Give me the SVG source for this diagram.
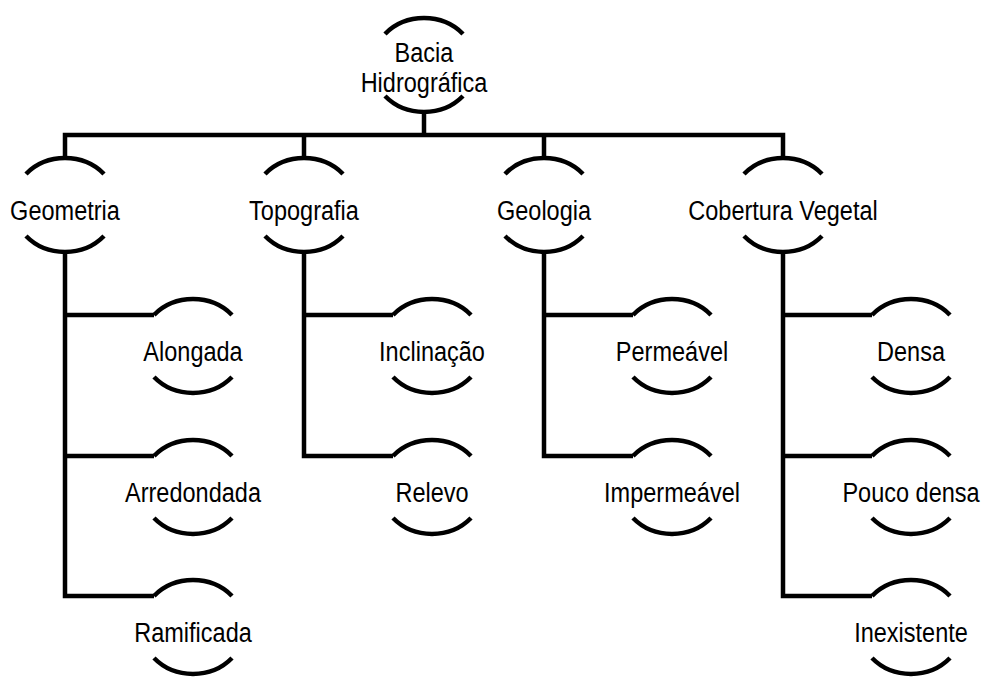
<svg xmlns="http://www.w3.org/2000/svg" xmlns:xlink="http://www.w3.org/1999/xlink" width="981" height="677" viewBox="0 0 981 677">
<style>
.arc{fill:none;stroke:#000;stroke-width:4.5;stroke-linecap:butt}
.con{fill:none;stroke:#000;stroke-width:4.5;stroke-linejoin:miter;stroke-linecap:butt}
text{font-family:"Liberation Sans",Arial,sans-serif;font-size:28px;fill:#000;text-anchor:middle}
</style>
<defs>
<path id="arcs" class="arc" d="M-39,-31 A52,47 0 0 1 39,-31 M-39,31 A52,47 0 0 0 39,31"/>
</defs>
<rect width="981" height="677" fill="#fff"/>
<g id="connectors">
<path class="con" d="M424,112 V135"/>
<path class="con" d="M65,158 V135 H783 V158"/>
<path class="con" d="M304,135 V158 M544,135 V158"/>
<path class="con" d="M65,252 V596 H154 M65,315 H154 M65,456 H154"/>
<path class="con" d="M304,252 V456 H393 M304,315 H393"/>
<path class="con" d="M544,252 V456 H633 M544,315 H633"/>
<path class="con" d="M783,252 V596 H872 M783,315 H872 M783,456 H872"/>
</g>
<g id="root" transform="translate(424,65)"><use xlink:href="#arcs"/><text transform="scale(0.84,1)" y="-3">Bacia</text><text transform="scale(0.84,1)" y="27">Hidrográfica</text></g>
<g id="geometria" transform="translate(65,205)"><use xlink:href="#arcs"/><text transform="scale(0.84,1)" y="15">Geometria</text></g>
<g id="topografia" transform="translate(304,205)"><use xlink:href="#arcs"/><text transform="scale(0.84,1)" y="15">Topografia</text></g>
<g id="geologia" transform="translate(544,205)"><use xlink:href="#arcs"/><text transform="scale(0.84,1)" y="15">Geologia</text></g>
<g id="cobertura" transform="translate(783,205)"><use xlink:href="#arcs"/><text transform="scale(0.84,1)" y="15">Cobertura Vegetal</text></g>
<g id="alongada" transform="translate(193,346)"><use xlink:href="#arcs"/><text transform="scale(0.84,1)" y="15">Alongada</text></g>
<g id="arredondada" transform="translate(193,487)"><use xlink:href="#arcs"/><text transform="scale(0.84,1)" y="15">Arredondada</text></g>
<g id="ramificada" transform="translate(193,627)"><use xlink:href="#arcs"/><text transform="scale(0.84,1)" y="15">Ramificada</text></g>
<g id="inclinacao" transform="translate(432,346)"><use xlink:href="#arcs"/><text transform="scale(0.84,1)" y="15">Inclinação</text></g>
<g id="relevo" transform="translate(432,487)"><use xlink:href="#arcs"/><text transform="scale(0.84,1)" y="15">Relevo</text></g>
<g id="permeavel" transform="translate(672,346)"><use xlink:href="#arcs"/><text transform="scale(0.84,1)" y="15">Permeável</text></g>
<g id="impermeavel" transform="translate(672,487)"><use xlink:href="#arcs"/><text transform="scale(0.84,1)" y="15">Impermeável</text></g>
<g id="densa" transform="translate(911,346)"><use xlink:href="#arcs"/><text transform="scale(0.84,1)" y="15">Densa</text></g>
<g id="pouco-densa" transform="translate(911,487)"><use xlink:href="#arcs"/><text transform="scale(0.84,1)" y="15">Pouco densa</text></g>
<g id="inexistente" transform="translate(911,627)"><use xlink:href="#arcs"/><text transform="scale(0.84,1)" y="15">Inexistente</text></g>
</svg>
